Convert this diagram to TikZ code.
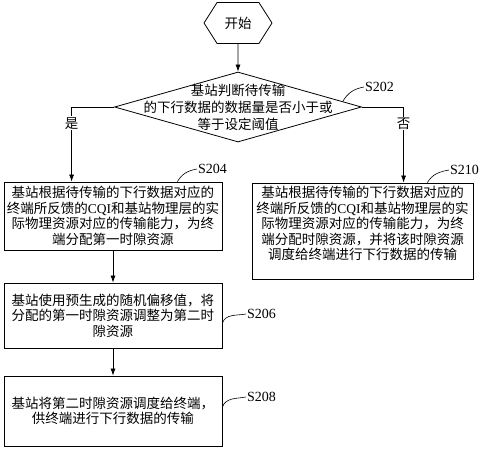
\documentclass[tikz,border=0pt]{standalone}
\usepackage{fontspec}
\setmainfont{Liberation Serif}
\newfontfamily\cjk{Noto Sans CJK SC}
\usetikzlibrary{shapes.geometric,shapes.symbols,arrows.meta}
\begin{document}
\begin{tikzpicture}[x=1pt,y=1pt,
  cn/.style={font=\cjk\fontsize{13.5}{15.5}\selectfont},
  stepbox/.style={cn,draw,line width=0.8pt,minimum width=218pt,minimum height=#1,inner sep=1pt,align=center},
  link/.style={line width=0.7pt,-{Latex[length=7pt,width=5pt]}},
  tag/.style={font=\fontsize{14}{15}\selectfont,anchor=west,inner sep=1pt},
  lead/.style={line width=0.6pt}]
\useasboundingbox (0,0) rectangle (485,-450);
\node[cn,draw,line width=0.8pt,signal,signal to=west and east,signal pointer angle=115,minimum width=68pt,minimum height=41pt,inner sep=0pt] (start) at (238,-23) {开始};
\node[diamond,draw,line width=0.8pt,minimum width=247pt,minimum height=70pt,inner sep=0pt] (judge) at (238,-107) {};
\node[cn,font=\cjk\fontsize{13.5}{17}\selectfont,align=center] (judgetext) at (judge) {基站判断待传输\\的下行数据的数据量是否小于或\\等于设定阈值};
%left branch
\node[stepbox=68pt] (s204) at (113,-216) {基站根据待传输的下行数据对应的\\终端所反馈的{\rmfamily CQI}和基站物理层的实\\际物理资源对应的传输能力，为终\\端分配第一时隙资源};
\node[stepbox=65pt] (s206) at (113,-315.5) {基站使用预生成的随机偏移值，将\\分配的第一时隙资源调整为第二时\\隙资源};
\node[stepbox=70pt] (s208) at (113,-411) {基站将第二时隙资源调度给终端，\\供终端进行下行数据的传输};
%right branch
\node[stepbox=96pt,minimum width=221pt] (s210) at (362.5,-231) {基站根据待传输的下行数据对应的\\终端所反馈的{\rmfamily CQI}和基站物理层的实\\际物理资源对应的传输能力，为终\\端分配时隙资源，并将该时隙资源\\调度给终端进行下行数据的传输\\ \mbox{}};
\draw[link] (start) -- (judge);
\draw[link] (judge.west) -| node[cn,pos=0.61,fill=white,inner sep=1pt] (yes) {是} ([xshift=68pt]s204.north west);
\draw[link] (judge.east) -| node[cn,pos=0.61,fill=white,inner sep=1pt] (no) {否} ([xshift=152pt]s210.north west);
\draw[link] (s204) -- (s206);
\draw[link] (s206) -- (s208);
%step numbers
\node[tag] (t202) at (364,-87) {S202};
\node[tag] (t204) at (197,-169) {S204};
\node[tag] (t210) at (449,-170) {S210};
\node[tag] (t206) at (246,-314) {S206};
\node[tag] (t208) at (246,-397) {S208};
\draw[lead] (judge.3) to[out=60,in=190] (t202.west);
\draw[lead] ([xshift=-45pt]s204.north east) to[out=60,in=190] (t204.west);
\draw[lead] ([xshift=-46pt]s210.north east) to[out=60,in=190] (t210.west);
\draw[lead] ([yshift=-7.5pt]s206.east) to[out=70,in=190] (t206.west);
\draw[lead] ([yshift=4pt]s208.east) to[out=70,in=190] (t208.west);
\end{tikzpicture}
\end{document}
